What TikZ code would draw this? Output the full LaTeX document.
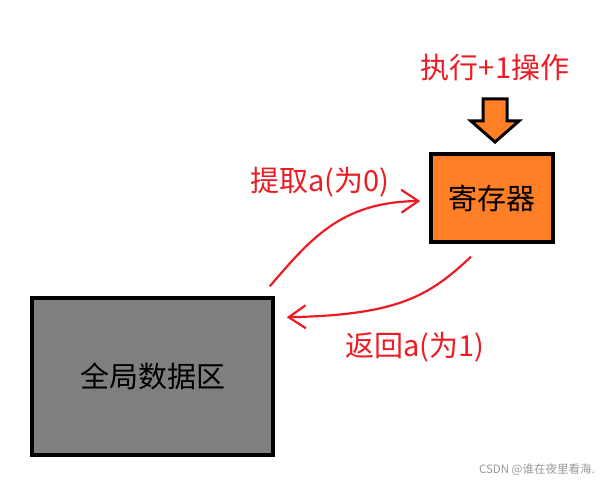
\documentclass[tikz,border=0pt]{standalone}
\usepackage{fontspec}
\newfontfamily\cjk{Noto Sans CJK SC}
\usetikzlibrary{arrows.meta,positioning}
\definecolor{regorange}{HTML}{FF7F27}
\definecolor{memgray}{HTML}{7F7F7F}
\definecolor{penred}{HTML}{ED1C24}
\begin{document}
\begin{tikzpicture}[x=1pt,y=-1pt,
  box node/.style={rectangle,draw=black,line width=3.5pt,inner sep=0pt,font=\cjk\fontsize{29}{31}\selectfont},
  red label/.style={text=penred,inner sep=0pt,font=\cjk\fontsize{29}{31}\selectfont},
  flow/.style={draw=penred,line width=2.2pt,-{Straight Barb[length=17pt,width=23pt]}}]

  \useasboundingbox (0,0) rectangle (600,481);

  \node[box node,fill=regorange,minimum width=122pt,minimum height=88pt] (reg) at (492,198) {寄存器};
  \node[box node,fill=memgray,minimum width=241pt,minimum height=157pt] (mem) at (152.5,376.5) {全局数据区};

  \node[red label] (op) at (495,68) {执行+1操作};
  \node[red label] (load) at (320,182) {提取a(为0)};
  \node[red label] (store) at (415,347) {返回a(为1)};

  % block arrow on top of the register
  \filldraw[fill=regorange,draw=black,line width=3pt,line join=miter]
    (483,99) -- (507,99) -- (507,121) -- (519,121) -- (495,142)
    -- (471,121) -- (483,121) -- cycle;

  \coordinate (d1) at ([xshift=-5pt,yshift=10pt]mem.north east);
  \coordinate (d2) at ([xshift=-21pt,yshift=-13pt]reg.south);

  \path[flow]
  (d1) .. controls (310,240) and (340,202) .. ([xshift=-9pt,yshift=-3pt]reg.west);
  \path[flow]
  (d2) .. controls (430,295) and (400,315) .. ([xshift=12pt,yshift=-21pt]mem.north east);

  \node[text=black!40,inner sep=0pt,anchor=east,font=\cjk\fontsize{11.5}{13}\selectfont] (mark) at (595,470) {CSDN @谁在夜里看海.};
\end{tikzpicture}
\end{document}
